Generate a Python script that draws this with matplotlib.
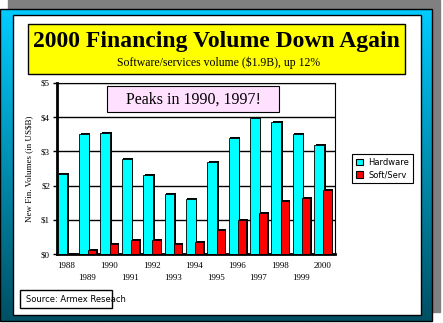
import numpy as np
import matplotlib.pyplot as plt
from matplotlib.patches import Rectangle, Patch

years = ['1988', '1989', '1990', '1991', '1992', '1993', '1994',
         '1995', '1996', '1997', '1998', '1999', '2000']
hardware = [2.35, 3.5, 3.55, 2.78, 2.3, 1.75, 1.6, 2.7, 3.4, 3.97, 3.85, 3.5, 3.2]
softserv = [0.01, 0.12, 0.28, 0.4, 0.42, 0.28, 0.35, 0.7, 1.0, 1.2, 1.55, 1.65, 1.88]
yticks = [0, 1, 2, 3, 4, 5]
ytick_labels = ['$0', '$1', '$2', '$3', '$4', '$5']

W, H = 443, 323
CYAN = '#00FFFF'
RED = '#FF0000'
SERIF = 'Liberation Serif'
SANS = 'DejaVu Sans'


def box(x0, y0, x1, y1):
    # pixel box (top-left origin) -> figure fraction rect
    return [x0 / W, 1 - y1 / H, (x1 - x0) / W, (y1 - y0) / H]


def main():
    fig = plt.figure(figsize=(W / 100, H / 100), dpi=100)
    fig.patch.set_facecolor('white')

    # background frame: shadow, gradient border, white panel
    bg = fig.add_axes([0, 0, 1, 1])
    bg.set_xlim(0, W)
    bg.set_ylim(H, 0)
    bg.axis('off')
    bg.add_patch(Rectangle((8, 0), 432, 312, color='#808080', zorder=0))
    top = np.array([0, 204, 255]) / 255
    bot = np.array([0, 80, 100]) / 255
    t = np.linspace(0, 1, 256)[:, None]
    grad = top[None, :] * (1 - t) + bot[None, :] * t
    bg.imshow(grad[:, None, :], extent=(0, 432, 321, 9), aspect='auto', zorder=1)
    bg.add_patch(Rectangle((0, 9), 432, 312, fill=False, ec='black', lw=1, zorder=2))
    bg.add_patch(Rectangle((13, 15), 408, 300, fc='white', ec='black', lw=1, zorder=3))

    # title box
    bg.add_patch(Rectangle((28, 24), 377, 50, fc='#FFFF00', ec='black', lw=1, zorder=4))
    bg.text(216, 41, '2000 Financing Volume Down Again', family=SERIF,
            fontweight='bold', fontsize=17, ha='center', va='center', zorder=5)
    bg.text(219, 63, 'Software/services volume ($1.9B), up 12%', family=SERIF,
            fontsize=8.5, ha='center', va='center', zorder=5)

    # source box
    bg.add_patch(Rectangle((20, 290), 92, 18, fill=False, ec='black', lw=1, zorder=4))
    bg.text(26, 300, 'Source: Armex Reseach', family=SANS, fontsize=6,
            ha='left', va='center', zorder=5)

    ax = fig.add_axes(box(57, 83, 335, 254))
    x = np.arange(len(years))
    cx = x + 0.03
    rx = x + 0.46
    bw_c, bw_r = 0.46, 0.38
    sh = 0.07
    ax.bar(cx + sh, np.array(hardware) + 0.03, width=bw_c, align='edge',
           color='black', zorder=2)
    ax.bar(cx, hardware, width=bw_c, align='edge', color=CYAN,
           edgecolor='black', linewidth=0.6, zorder=3)
    ax.bar(rx + sh, np.array(softserv) + 0.03, width=bw_r, align='edge',
           color='black', zorder=4)
    ax.bar(rx, softserv, width=bw_r, align='edge', color=RED,
           edgecolor='black', linewidth=0.6, zorder=5)

    ax.set_xlim(0, len(years))
    ax.set_ylim(0, 5)
    ax.set_yticks(yticks)
    ax.set_yticklabels(ytick_labels, family=SERIF, fontsize=6.5)
    ax.yaxis.grid(True, color='black', linewidth=1)
    ax.set_axisbelow(True)
    ax.set_xticks([])
    ax.tick_params(axis='y', length=3, width=1, pad=2)
    for s in ['top', 'right']:
        ax.spines[s].set_linewidth(0.8)
    for s in ['left', 'bottom']:
        ax.spines[s].set_linewidth(2)
    ax.set_ylabel('New Fin. Volumes (in US$B)', family=SERIF, fontsize=6.5,
                  labelpad=6)

    # staggered year labels
    for i, yr in enumerate(years):
        ypos = -0.07 if i % 2 == 0 else -0.14
        ax.text(i + 0.42, ypos, yr, transform=ax.get_xaxis_transform(),
                family=SERIF, fontsize=6.5, ha='center', va='center')

    # callout box
    ax.add_patch(Rectangle((0.18, 0.83), 0.62, 0.152, transform=ax.transAxes,
                           fc='#FFE0FF', ec='black', lw=0.8, zorder=6))
    ax.text(0.489, 0.905, 'Peaks in 1990, 1997!', transform=ax.transAxes,
            family=SERIF, fontsize=11.5, ha='center', va='center', zorder=7)

    handles = [Patch(fc=CYAN, ec='black', lw=0.8, label='Hardware'),
               Patch(fc=RED, ec='black', lw=0.8, label='Soft/Serv')]
    leg = fig.legend(handles=handles, loc='center',
                     bbox_to_anchor=(382.5 / W, 1 - 168.5 / H),
                     prop={'family': SANS, 'size': 6}, fancybox=False,
                     edgecolor='black', framealpha=1, handlelength=0.9,
                     handleheight=0.9, handletextpad=0.6, borderpad=0.5,
                     labelspacing=0.4)
    leg.get_frame().set_linewidth(0.8)

    fig.savefig('out.png', dpi=100)


if __name__ == '__main__':
    main()
